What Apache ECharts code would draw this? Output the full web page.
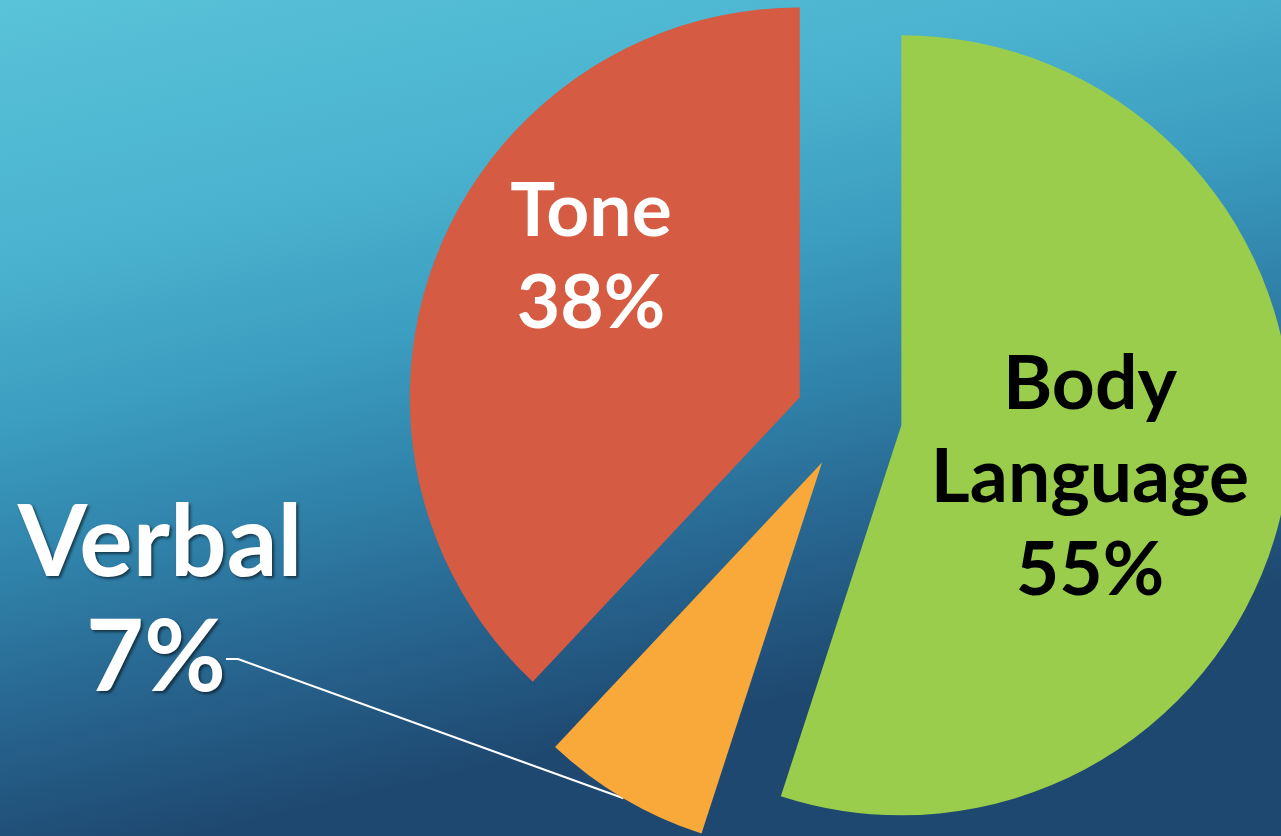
<!DOCTYPE html>
<html>
<head>
<meta charset="utf-8">
<script src="https://cdn.jsdelivr.net/npm/echarts@6/dist/echarts.min.js"></script>
<style>
  html, body { margin: 0; padding: 0; width: 100%; height: 100%; overflow: hidden; }
  #chart { width: 1281px; height: 836px; }
</style>
</head>
<body>
<div id="chart"></div>
<script>
const categories = ['Body Language', 'Verbal', 'Tone'];
const values = [55, 7, 38];
const sliceColors = ['#9BCD4C', '#F9A83A', '#D55B42'];

// label placements: which series (drawn slice) carries the label, which data item, what text
const labelSpecs = [
  { series: 0, item: 0, text: 'both',  color: '#000000', fontSize: 75,  lineHeight: 93,  pos: [1090, 478], shadow: false, line: false },
  { series: 0, item: 1, text: 'name',  color: '#FFFFFF', fontSize: 100, lineHeight: 115, pos: [160, 544],  shadow: true,  line: false },
  { series: 1, item: 1, text: 'value', color: '#FFFFFF', fontSize: 100, lineHeight: 115, pos: [156, 659],  shadow: true,  line: true },
  { series: 2, item: 2, text: 'both',  color: '#FFFFFF', fontSize: 75,  lineHeight: 92,  pos: [591, 258], shadow: false, line: false }
];

const pieCenter = [849, 417];
const pieRadius = 390;
const explode = 53;
const total = values.reduce((a, b) => a + b, 0);

function findSpec(k, i) {
  return labelSpecs.find(s => s.series === k && s.item === i);
}

const series = [];
let cum = 0;
categories.forEach((cat, k) => {
  const mid = (cum + values[k] / 2) / total * Math.PI * 2;
  cum += values[k];
  const cx = pieCenter[0] + Math.sin(mid) * explode;
  const cy = pieCenter[1] - Math.cos(mid) * explode;
  series.push({
    type: 'pie',
    center: [cx, cy],
    radius: pieRadius,
    startAngle: 90,
    clockwise: true,
    avoidLabelOverlap: false,
    silent: true,
    emphasis: { disabled: true },
    label: { show: false },
    labelLine: { show: false },
    labelLayout: function (params) {
      const s = findSpec(k, params.dataIndex);
      if (!s) return {};
      return { x: s.pos[0], y: s.pos[1], align: 'center', verticalAlign: 'middle' };
    },
    data: categories.map((name, i) => {
      const s = findSpec(k, i);
      const item = {
        name: name,
        value: values[i],
        itemStyle: { color: i === k ? sliceColors[i] : 'rgba(0,0,0,0)' },
        label: { show: false },
        labelLine: { show: false }
      };
      if (s) {
        item.label = {
          show: true,
          position: s.line ? 'outside' : 'inside',
          fontFamily: 'Lato',
          fontWeight: 'bold',
          align: 'center',
          color: s.color,
          fontSize: s.fontSize,
          lineHeight: s.lineHeight,
          textShadowColor: s.shadow ? 'rgba(0,0,0,0.55)' : 'transparent',
          textShadowBlur: s.shadow ? 3 : 0,
          textShadowOffsetX: s.shadow ? 2 : 0,
          textShadowOffsetY: s.shadow ? 2 : 0,
          formatter: p => {
            const nm = p.name.replace(' ', '\n');
            const val = p.value + '%';
            return s.text === 'name' ? nm : s.text === 'value' ? val : nm + '\n' + val;
          }
        };
        if (s.line) {
          item.labelLine = {
            show: true,
            length: 20,
            length2: 12,
            lineStyle: { color: '#FFFFFF', width: 2 }
          };
        }
      }
      return item;
    })
  });
});

const chart = echarts.init(document.getElementById('chart'), null, { renderer: 'canvas' });
chart.setOption({
  animation: false,
  backgroundColor: new echarts.graphic.LinearGradient(0, 0, 0.15, 1, [
    { offset: 0, color: '#59C3D9' },
    { offset: 0.3, color: '#4AB2CE' },
    { offset: 0.48, color: '#3C9EC1' },
    { offset: 0.65, color: '#3083AB' },
    { offset: 0.8, color: '#286892' },
    { offset: 1, color: '#1E4870' }
  ]),
  series: series
});
</script>
</body>
</html>
